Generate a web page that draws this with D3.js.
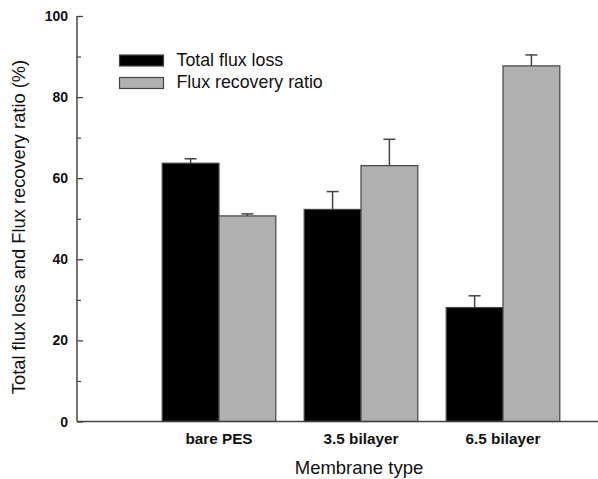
<!DOCTYPE html>
<html><head><meta charset="utf-8">
<script src="https://cdn.jsdelivr.net/npm/d3@7"></script>
<style>body{margin:0;background:#fff}svg{display:block}text{font-family:"Liberation Sans",Arial,sans-serif;fill:#111}</style>
</head><body>
<svg id="c" width="598" height="479"></svg>
<script>
const categories = ["bare PES", "3.5 bilayer", "6.5 bilayer"];
const seriesNames = ["Total flux loss", "Flux recovery ratio"];
const totalFluxLoss = [63.7, 52.3, 28.1];
const totalFluxLossErr = [1.1, 4.4, 2.9];
const fluxRecovery = [50.7, 63.1, 87.7];
const fluxRecoveryErr = [0.5, 6.5, 2.7];
const yTicks = [0, 20, 40, 60, 80, 100];
const yMinorTicks = [10, 30, 50, 70, 90];

const svg = d3.select("#c");
const mLeft = 77, mRight = 598, mTop = 16, mBottom = 421.5;
const y = d3.scaleLinear().domain([0, 100]).range([mBottom, mTop]);
const x = d3.scaleBand().domain(categories).range([148, 574]).paddingInner(0.2).paddingOuter(0.1);
const xs = d3.scaleBand().domain(seriesNames).range([0, x.bandwidth()]);
const colors = ["#000000", "#b0b0b0"];
const series = [
  {name: seriesNames[0], vals: totalFluxLoss, errs: totalFluxLossErr},
  {name: seriesNames[1], vals: fluxRecovery, errs: fluxRecoveryErr}
];

// bars
series.forEach((s, si) => {
  const g = svg.append("g");
  g.selectAll("rect").data(categories).join("rect")
    .attr("x", (c) => x(c) + xs(s.name))
    .attr("y", (c, i) => y(s.vals[i]))
    .attr("width", xs.bandwidth())
    .attr("height", (c, i) => y(0) - y(s.vals[i]))
    .attr("fill", colors[si]).attr("stroke", "#444").attr("stroke-width", 1.2);
  g.selectAll("line.e").data(categories).join("line").attr("class", "e")
    .attr("x1", (c) => x(c) + xs(s.name) + xs.bandwidth() / 2)
    .attr("x2", (c) => x(c) + xs(s.name) + xs.bandwidth() / 2)
    .attr("y1", (c, i) => y(s.vals[i]))
    .attr("y2", (c, i) => y(s.vals[i] + s.errs[i]))
    .attr("stroke", "#444").attr("stroke-width", 1.5);
  g.selectAll("line.c").data(categories).join("line").attr("class", "c")
    .attr("x1", (c) => x(c) + xs(s.name) + xs.bandwidth() / 2 - 6)
    .attr("x2", (c) => x(c) + xs(s.name) + xs.bandwidth() / 2 + 6)
    .attr("y1", (c, i) => y(s.vals[i] + s.errs[i]))
    .attr("y2", (c, i) => y(s.vals[i] + s.errs[i]))
    .attr("stroke", "#444").attr("stroke-width", 1.5);
});

// y axis
const yAxis = d3.axisRight(y).tickValues(yTicks).tickSize(6).tickFormat("");
const yg = svg.append("g").attr("transform", `translate(${mLeft},0)`).call(yAxis);
yg.select(".domain").attr("stroke", "#444").attr("stroke-width", 1.5).attr("d", `M0,${mTop}V${mBottom}`);
yg.selectAll(".tick line").attr("stroke", "#444").attr("stroke-width", 1.3);
const ym = d3.axisRight(y).tickValues(yMinorTicks).tickSize(4).tickFormat("");
const ymg = svg.append("g").attr("transform", `translate(${mLeft},0)`).call(ym);
ymg.select(".domain").remove();
ymg.selectAll(".tick line").attr("stroke", "#444").attr("stroke-width", 1.2);
svg.append("g").selectAll("text").data(yTicks).join("text")
  .attr("x", 68).attr("y", (d) => y(d) + 5)
  .attr("text-anchor", "end").attr("font-size", 14).attr("font-weight", "bold")
  .text((d) => d);

// x axis
svg.append("line").attr("x1", mLeft).attr("x2", mRight).attr("y1", mBottom).attr("y2", mBottom)
  .attr("stroke", "#444").attr("stroke-width", 1.5);
svg.append("g").selectAll("text").data(categories).join("text")
  .attr("x", (c) => x(c) + x.bandwidth() / 2).attr("y", 443.5)
  .attr("text-anchor", "middle").attr("font-size", 15.3).attr("font-weight", "bold")
  .text((c) => c);

// titles
svg.append("text").attr("x", 359).attr("y", 474).attr("text-anchor", "middle")
  .attr("font-size", 18.5).text("Membrane type");
svg.append("text").attr("transform", "translate(25,227) rotate(-90)")
  .attr("text-anchor", "middle").attr("font-size", 18.3).text("Total flux loss and Flux recovery ratio (%)");

// legend
const lg = svg.append("g");
series.forEach((s, i) => {
  lg.append("rect").attr("x", 119.5).attr("y", 55 + i * 22.5).attr("width", 44).attr("height", 11)
    .attr("fill", colors[i]).attr("stroke", "#444").attr("stroke-width", 1.2);
  lg.append("text").attr("x", 176.5).attr("y", 65.7 + i * 22.6).attr("font-size", 17.8).text(s.name);
});
</script>
</body></html>
